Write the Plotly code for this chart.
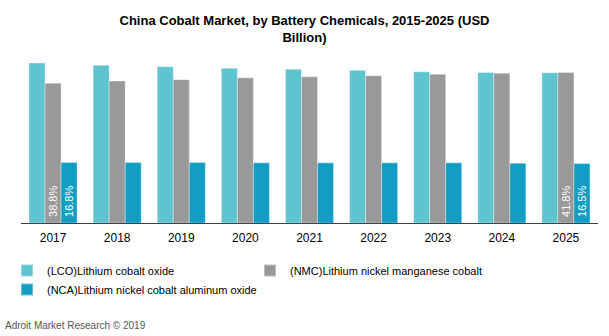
import plotly.graph_objects as go

years = ["2017", "2018", "2019", "2020", "2021", "2022", "2023", "2024", "2025"]
lco = [44.4, 43.8, 43.4, 43.0, 42.7, 42.4, 42.0, 41.8, 41.7]
nmc = [38.8, 39.4, 39.8, 40.3, 40.6, 40.9, 41.3, 41.6, 41.8]
nca = [16.8, 16.8, 16.8, 16.7, 16.7, 16.7, 16.7, 16.6, 16.5]
names = ["(LCO)Lithium cobalt oxide", "(NMC)Lithium nickel manganese cobalt",
         "(NCA)Lithium nickel cobalt aluminum oxide"]
colors = ["#5EC4CF", "#999999", "#129EC4"]
title = "China Cobalt Market, by Battery Chemicals, 2015-2025 (USD<br>Billion)"
source = "Adroit Market Research © 2019"


def labels(vals, show):
    out = []
    for i, v in enumerate(vals):
        out.append("\u00a0" + f"{v}%" if show and i in (0, len(vals) - 1) else "")
    return out


fig = go.Figure()
for name, vals, col, show in zip(names, [lco, nmc, nca], colors, [False, True, True]):
    fig.add_trace(go.Bar(
        x=years, y=vals, name=name,
        marker=dict(color=col, line=dict(color="rgba(255,255,255,0.35)", width=1)),
        text=labels(vals, show), textposition="inside", insidetextanchor="start",
        constraintext="none",
        textangle=-90, textfont=dict(color="white", size=11, family="Liberation Sans"),
        hoverinfo="x+y+name",
    ))

fig.update_layout(
    width=609, height=336,
    margin=dict(l=21, r=11, t=55, b=113),
    paper_bgcolor="white", plot_bgcolor="white",
    barmode="group", bargap=0.25, bargroupgap=0,
    font=dict(family="Liberation Sans", color="#000000"),
    title=dict(text="<b>" + title + "</b>", x=0.5, xanchor="center",
               y=1 - 25 / 336, yanchor="top", yref="container",
               font=dict(size=13, color="#000000", family="Liberation Sans")),
    xaxis=dict(showline=True, linecolor="#404040", linewidth=1, ticks="",
               ticklabelstandoff=4,
               tickfont=dict(size=12, color="#000000")),
    yaxis=dict(range=[0, 46.65], visible=False, showgrid=False),
    showlegend=True,
    legend=dict(orientation="h", xref="container", yref="container",
                x=7 / 609, y=1 - 256 / 336, xanchor="left", yanchor="top",
                entrywidth=198, entrywidthmode="pixels",
                font=dict(size=11, color="#000000"), traceorder="normal",
                itemsizing="constant"),
    annotations=[dict(text=source, xref="paper", yref="paper", showarrow=False,
                      x=-18 / 577, y=(223 - 325) / 168, xanchor="left", yanchor="middle",
                      font=dict(size=10, color="#555555"))],
)

fig.write_html("out.html")
